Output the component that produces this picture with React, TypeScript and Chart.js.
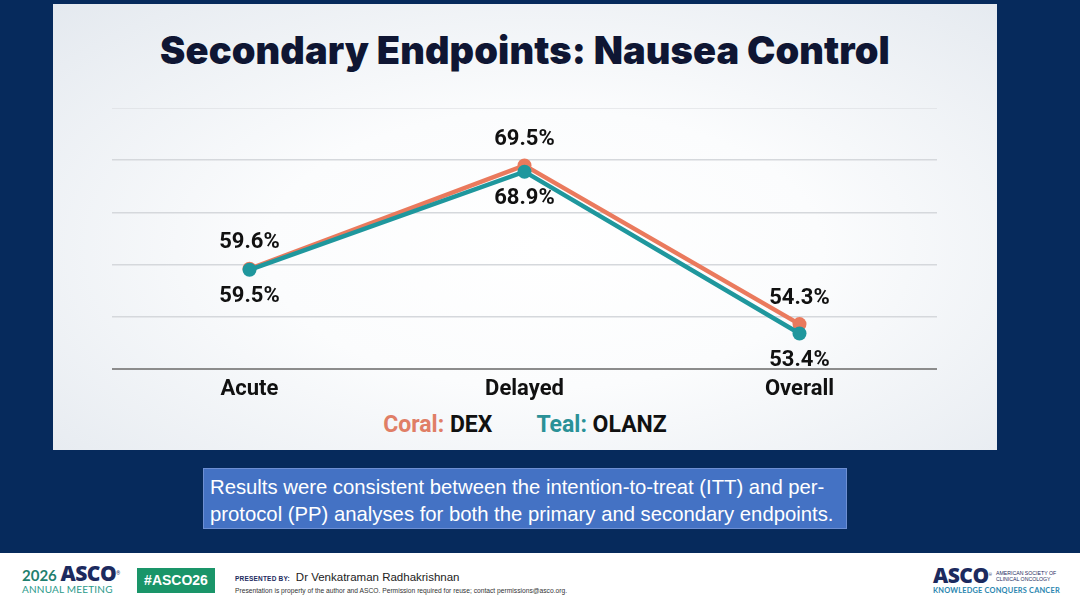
import React, { useEffect, useRef } from 'react';
import { Chart, registerables } from 'chart.js';
Chart.register(...registerables);

// values
const phases = ['Acute', 'Delayed', 'Overall'];
const dexValues = [59.6, 69.5, 54.3];
const olanzValues = [59.5, 68.9, 53.4];
const yMin = 50;
const yMax = 75;
const yStep = 5;

const CORAL = '#ea7a5d';
const TEAL = '#1f979d';
const NAVY = '#062a5c';

// draws the % values above (coral) or below (teal) each point
const valueLabels = {
    id: 'valueLabels',
    afterDatasetsDraw(chart: Chart) {
        const ctx = chart.ctx;
        ctx.save();
        ctx.font = 'bold 22px Roboto';
        ctx.fillStyle = '#111111';
        ctx.textAlign = 'center';
        ctx.textBaseline = 'middle';
        chart.data.datasets.forEach((ds: any, i: number) => {
            const meta = chart.getDatasetMeta(i);
            const shift = ds.labelSide === 'above' ? -26 : 27;
            meta.data.forEach((pt: any, j: number) => {
                const v = ds.data[j] as number;
                ctx.fillText(v.toFixed(1) + '%', pt.x, pt.y + shift);
            });
        });
        ctx.restore();
    },
};

const NauseaChart: React.FC = () => {
    const chartRef = useRef<HTMLCanvasElement>(null);
    const chartInstance = useRef<Chart | null>(null);

    useEffect(() => {
        if (!chartRef.current) return;
        const chartContext = chartRef.current.getContext('2d');
        if (!chartContext) return;
        if (chartInstance.current) chartInstance.current.destroy();

        chartInstance.current = new Chart(chartContext, {
            type: 'line',
            data: {
                labels: phases,
                datasets: [
                    {
                        label: 'DEX',
                        data: dexValues,
                        borderColor: CORAL,
                        backgroundColor: CORAL,
                        borderWidth: 4.5,
                        pointRadius: 7,
                        pointBorderWidth: 0,
                        order: 1,
                        labelSide: 'above',
                    } as any,
                    {
                        label: 'OLANZ',
                        data: olanzValues,
                        borderColor: TEAL,
                        backgroundColor: TEAL,
                        borderWidth: 4.5,
                        pointRadius: 7,
                        pointBorderWidth: 0,
                        order: 0,
                        labelSide: 'below',
                    } as any,
                ],
            },
            options: {
                animation: false,
                responsive: true,
                maintainAspectRatio: false,
                layout: { padding: 0, autoPadding: false },
                plugins: {
                    legend: { display: false },
                    tooltip: { enabled: false },
                },
                scales: {
                    x: {
                        offset: true,
                        grid: { display: false, drawTicks: false },
                        border: { display: true, color: '#8c8c8c', width: 2 },
                        ticks: {
                            padding: 7,
                            color: '#111111',
                            font: { family: 'Roboto', size: 22, weight: 'bold' },
                        },
                    },
                    y: {
                        min: yMin,
                        max: yMax,
                        ticks: { display: false, stepSize: yStep },
                        border: { display: false },
                        grid: {
                            drawTicks: false,
                            lineWidth: 1.5,
                            color: (c: any) => (c.tick && c.tick.value === yMin ? 'rgba(0,0,0,0)' : '#d5d8dc'),
                        },
                    },
                },
            },
            plugins: [valueLabels],
        });

        return () => {
            if (chartInstance.current) {
                chartInstance.current.destroy();
                chartInstance.current = null;
            }
        };
    }, []);

    return <canvas ref={chartRef}></canvas>;
};

const abs = (s: React.CSSProperties): React.CSSProperties => ({ position: 'absolute', ...s });

const App: React.FC = () => {
    return (
        <div style={abs({ left: 0, top: 0, width: 1080, height: 608, background: NAVY, overflow: 'hidden', fontFamily: 'Roboto' })}>
            {/* white slide panel */}
            <div
                style={abs({
                    left: 53,
                    top: 4,
                    width: 944,
                    height: 446,
                    background: 'radial-gradient(ellipse at 52% 55%, #ffffff 0%, #fbfcfd 40%, #e4e9ef 100%)',
                })}
            >
                <div
                    style={abs({
                        left: 0,
                        top: 21,
                        width: 944,
                        textAlign: 'center',
                        fontFamily: 'Inter',
                        fontWeight: 900,
                        fontSize: 38,
                        lineHeight: '50px',
                        color: '#0f1633',
                        letterSpacing: 0.1,
                    })}
                >
                    Secondary Endpoints: Nausea Control
                </div>
                <div
                    style={abs({
                        left: 0,
                        top: 405,
                        width: 944,
                        display: 'flex',
                        justifyContent: 'center',
                        gap: 44,
                        fontSize: 23,
                        fontWeight: 700,
                        lineHeight: '32px',
                        color: '#111111',
                    })}
                >
                    <span>
                        <span style={{ color: '#e07e66' }}>Coral:</span> DEX
                    </span>
                    <span>
                        <span style={{ color: '#2a9197' }}>Teal:</span> OLANZ
                    </span>
                </div>
            </div>

            {/* chart: plot area 112..937 x 108..368 */}
            <div style={abs({ left: 112, top: 108, width: 825, height: 301.4 })}>
                <NauseaChart />
            </div>

            {/* note box */}
            <div
                style={abs({
                    left: 203,
                    top: 468,
                    width: 644,
                    height: 61,
                    boxSizing: 'border-box',
                    background: '#4472c4',
                    border: '1px solid #6d8fd3',
                    padding: '5px 6px',
                    color: '#ffffff',
                    fontFamily: '"Liberation Sans", Arial, sans-serif',
                    fontSize: 20.3,
                    lineHeight: '27px',
                })}
            >
                Results were consistent between the intention-to-treat (ITT) and per-protocol (PP) analyses for both the primary and secondary endpoints.
            </div>

            {/* footer */}
            <div style={abs({ left: 0, top: 553, width: 1080, height: 55, background: '#ffffff' })}>
                <div style={abs({ left: 22, top: 10, whiteSpace: 'nowrap', lineHeight: '20px' })}>
                    <span style={{ fontFamily: 'Lato', fontWeight: 700, fontSize: 15, color: '#1f7f6e' }}>2026 </span>
                    <span style={{ fontFamily: '"Open Sans"', fontWeight: 800, fontSize: 21, color: '#1c2a5e', letterSpacing: -0.5 }}>ASCO</span>
                    <span style={{ fontSize: 5, color: '#1c2a5e', verticalAlign: 'top' }}>®</span>
                </div>
                <div style={abs({ left: 22, top: 30, fontFamily: 'Lato', fontSize: 10, color: '#2a9a8a', letterSpacing: 0.2, whiteSpace: 'nowrap' })}>
                    ANNUAL MEETING
                </div>
                <div
                    style={abs({
                        left: 137,
                        top: 15,
                        width: 78,
                        height: 25,
                        background: '#1a9569',
                        color: '#ffffff',
                        fontFamily: '"Liberation Sans", Arial, sans-serif',
                        fontWeight: 700,
                        fontSize: 14,
                        lineHeight: '25px',
                        textAlign: 'center',
                    })}
                >
                    #ASCO26
                </div>
                <div style={abs({ left: 235, top: 14, whiteSpace: 'nowrap', fontFamily: '"Liberation Sans", Arial, sans-serif' })}>
                    <span style={{ fontSize: 6.5, fontWeight: 700, color: '#1c2a5e', letterSpacing: 0.2 }}>PRESENTED BY:</span>
                    <span style={{ fontSize: 11.5, color: '#222222', marginLeft: 6 }}>Dr Venkatraman Radhakrishnan</span>
                </div>
                <div style={abs({ left: 235, top: 34, whiteSpace: 'nowrap', fontFamily: '"Liberation Sans", Arial, sans-serif', fontSize: 6.7, color: '#333333' })}>
                    Presentation is property of the author and ASCO. Permission required for reuse; contact permissions@asco.org.
                </div>
                <div style={abs({ left: 933, top: 11, whiteSpace: 'nowrap', lineHeight: '22px' })}>
                    <span style={{ fontFamily: '"Open Sans"', fontWeight: 800, fontSize: 21, color: '#1c2a5e', letterSpacing: -0.5 }}>ASCO</span>
                    <span style={{ fontSize: 4, color: '#1c2a5e', verticalAlign: 'top' }}>®</span>
                </div>
                <div style={abs({ left: 996, top: 17, fontFamily: '"Liberation Sans", Arial, sans-serif', fontSize: 5.2, lineHeight: '6px', color: '#1c2a5e', whiteSpace: 'nowrap' })}>
                    AMERICAN SOCIETY OF
                    <br />
                    CLINICAL ONCOLOGY
                </div>
                <div style={abs({ left: 933, top: 33, fontFamily: 'Lato', fontWeight: 700, fontSize: 7.4, color: '#2b86b0', letterSpacing: 0.2, whiteSpace: 'nowrap' })}>
                    KNOWLEDGE CONQUERS CANCER
                </div>
            </div>
        </div>
    );
};

export default App;
